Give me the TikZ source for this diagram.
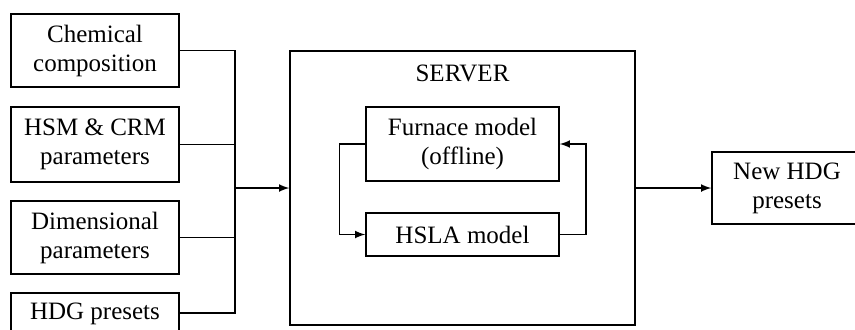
\documentclass[tikz,border=0pt]{standalone}
\usepackage{fontspec}
\setmainfont{Liberation Serif}
\tikzstyle{inbox}=[draw,line width=0.75pt,minimum width=84pt,align=center,inner sep=0pt,font=\fontsize{12.5}{14.5}\selectfont]
\tikzstyle{model}=[inbox,minimum width=96.5pt]

\begin{document}
\begin{tikzpicture}[x=0.5pt,y=-0.5pt,line width=0.75pt]
\useasboundingbox (0,0) rectangle (855,329);
\node[inbox,minimum height=36.5pt] (chem) at (95,50.5) {Chemical\\composition};
\node[inbox,minimum height=37.5pt] (hsm) at (95,144.5) {HSM \& CRM\\parameters};
\node[inbox,minimum height=36.5pt] (dim) at (95,237.5) {Dimensional\\parameters};
\node[inbox,minimum height=30pt,text height=9pt,text depth=13pt] (hdg) at (95,323) {HDG presets};
\node[inbox,minimum width=172.5pt,minimum height=137pt] (server) at (462.5,188) {};
\node[font=\fontsize{12.5}{14.5}\selectfont] (title) at (462.5,73) {SERVER};
\node[model,minimum height=37pt] (furnace) at (462.5,144) {Furnace model\\(offline)};
\node[model,minimum height=21.5pt] (hsla) at (462.5,234.5) {HSLA model};
\node[inbox,minimum width=75pt,minimum height=36pt] (new) at (787,188) {New HDG\\presets};
\coordinate (join) at (235,188);
\draw (chem) -| (join);
\draw (hsm) -| (join);
\draw (dim) -| (join);
\draw ([yshift=5pt]hdg.east) -| (join);
\draw[-latex] (join) -- (server);
\draw[-latex] (furnace.west) -- ++(-26,0) |- (hsla.west);
\draw[-latex] (hsla.east) -- ++(26,0) |- (furnace.east);
\draw[-latex] (server) -- (new);
\end{tikzpicture}
\end{document}
